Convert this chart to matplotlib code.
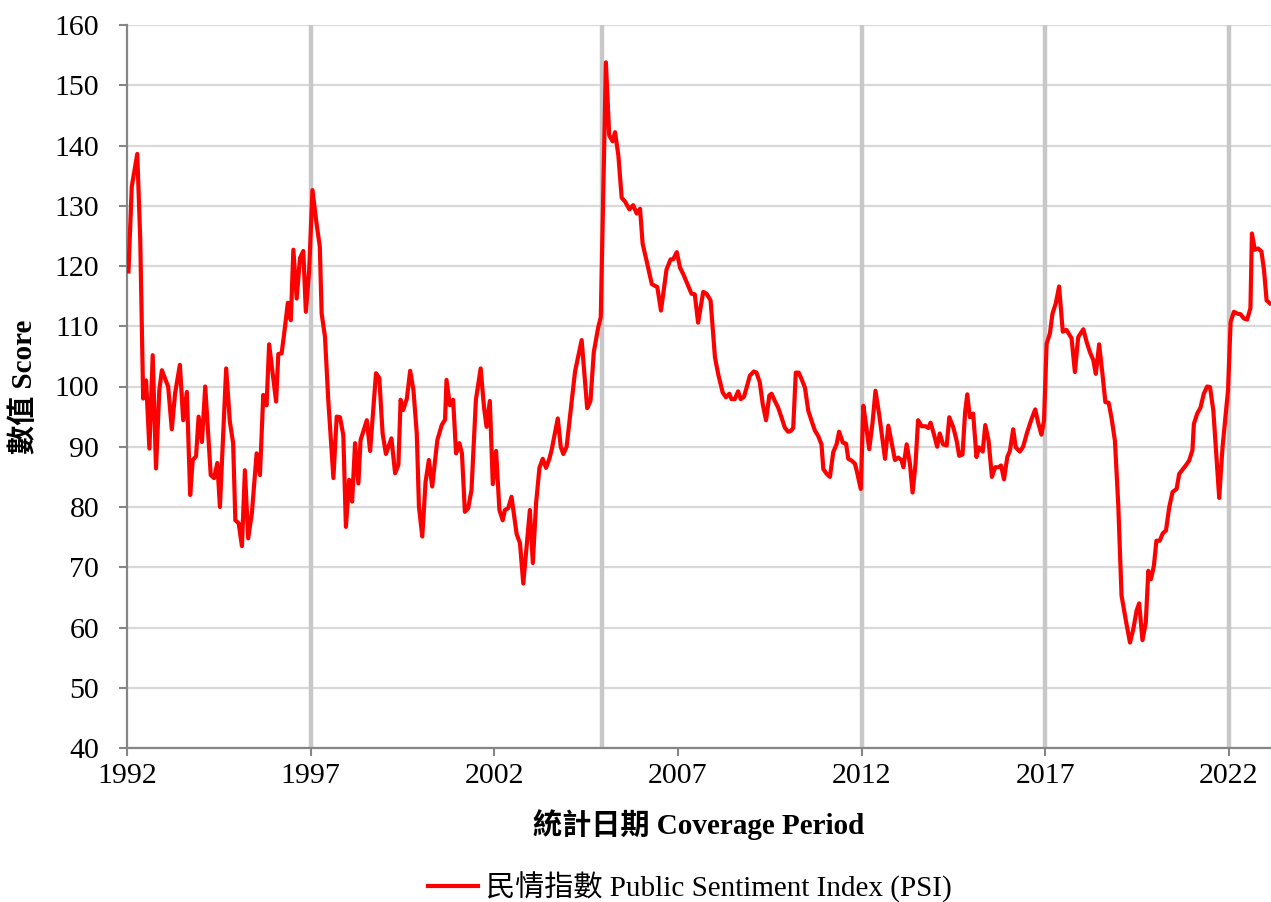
import matplotlib
matplotlib.use("Agg")
import matplotlib.pyplot as plt

# Decimal-year dates and PSI values
dates = [1992.04, 1992.13, 1992.28, 1992.36, 1992.44, 1992.52, 1992.61, 1992.70, 1992.79, 1992.88,
         1992.95, 1993.12, 1993.22, 1993.31, 1993.44, 1993.53, 1993.63, 1993.72, 1993.79, 1993.88,
         1993.95, 1994.04, 1994.13, 1994.28, 1994.37, 1994.46, 1994.53, 1994.70, 1994.80, 1994.89,
         1994.95, 1995.04, 1995.13, 1995.21, 1995.30, 1995.40, 1995.53, 1995.62, 1995.71, 1995.80,
         1995.87, 1996.06, 1996.12, 1996.21, 1996.27, 1996.38, 1996.46, 1996.53, 1996.62, 1996.71,
         1996.80, 1996.87, 1996.96, 1997.05, 1997.16, 1997.25, 1997.30, 1997.39, 1997.48, 1997.62,
         1997.71, 1997.80, 1997.89, 1997.96, 1998.05, 1998.13, 1998.21, 1998.30, 1998.36, 1998.53,
         1998.62, 1998.78, 1998.87, 1998.96, 1999.05, 1999.20, 1999.30, 1999.39, 1999.45, 1999.52,
         1999.62, 1999.71, 1999.80, 1999.89, 1999.95, 2000.04, 2000.13, 2000.22, 2000.31, 2000.45,
         2000.57, 2000.66, 2000.70, 2000.79, 2000.88, 2000.96, 2001.05, 2001.12, 2001.20, 2001.29,
         2001.38, 2001.50, 2001.63, 2001.72, 2001.79, 2001.88, 2001.96, 2002.05, 2002.14, 2002.23,
         2002.29, 2002.38, 2002.47, 2002.61, 2002.70, 2002.79, 2002.97, 2003.05, 2003.14, 2003.23,
         2003.32, 2003.41, 2003.50, 2003.56, 2003.73, 2003.81, 2003.88, 2003.97, 2004.11, 2004.20,
         2004.38, 2004.53, 2004.62, 2004.71, 2004.83, 2004.90, 2005.04, 2005.13, 2005.22, 2005.29,
         2005.38, 2005.47, 2005.56, 2005.68, 2005.78, 2005.88, 2005.97, 2006.04, 2006.15, 2006.29,
         2006.44, 2006.54, 2006.69, 2006.80, 2006.87, 2006.97, 2007.06, 2007.15, 2007.28, 2007.37,
         2007.46, 2007.55, 2007.69, 2007.78, 2007.89, 2008.01, 2008.10, 2008.22, 2008.31, 2008.40,
         2008.46, 2008.55, 2008.64, 2008.71, 2008.80, 2008.87, 2008.96, 2009.07, 2009.14, 2009.23,
         2009.31, 2009.40, 2009.49, 2009.55, 2009.64, 2009.73, 2009.82, 2009.91, 2010.00, 2010.07,
         2010.14, 2010.21, 2010.29, 2010.37, 2010.46, 2010.55, 2010.64, 2010.73, 2010.82, 2010.91,
         2010.96, 2011.05, 2011.14, 2011.23, 2011.32, 2011.39, 2011.49, 2011.58, 2011.64, 2011.73,
         2011.82, 2011.87, 2011.98, 2012.05, 2012.12, 2012.21, 2012.30, 2012.38, 2012.48, 2012.59,
         2012.64, 2012.73, 2012.82, 2012.91, 2013.00, 2013.09, 2013.14, 2013.23, 2013.32, 2013.39,
         2013.47, 2013.54, 2013.64, 2013.75, 2013.82, 2013.88, 2013.97, 2014.06, 2014.13, 2014.22,
         2014.32, 2014.39, 2014.50, 2014.59, 2014.66, 2014.75, 2014.82, 2014.88, 2014.95, 2015.04,
         2015.13, 2015.20, 2015.30, 2015.37, 2015.46, 2015.55, 2015.64, 2015.73, 2015.80, 2015.88,
         2015.97, 2016.04, 2016.13, 2016.20, 2016.31, 2016.40, 2016.51, 2016.63, 2016.73, 2016.81,
         2016.90, 2016.97, 2017.04, 2017.13, 2017.20, 2017.29, 2017.38, 2017.48, 2017.58, 2017.72,
         2017.81, 2017.90, 2018.04, 2018.13, 2018.22, 2018.31, 2018.38, 2018.47, 2018.56, 2018.64,
         2018.73, 2018.81, 2018.90, 2018.99, 2019.08, 2019.20, 2019.31, 2019.40, 2019.49, 2019.56,
         2019.65, 2019.74, 2019.81, 2019.88, 2019.96, 2020.03, 2020.12, 2020.20, 2020.29, 2020.38,
         2020.47, 2020.58, 2020.65, 2020.74, 2020.83, 2020.92, 2021.01, 2021.05, 2021.14, 2021.23,
         2021.32, 2021.41, 2021.49, 2021.58, 2021.67, 2021.74, 2021.83, 2021.92, 2021.98, 2022.05,
         2022.14, 2022.23, 2022.32, 2022.41, 2022.50, 2022.59, 2022.63, 2022.71, 2022.80, 2022.89,
         2022.96, 2023.03, 2023.12]

psi = [119.1, 133.2, 138.6, 124.5, 98.0, 101.0, 89.7, 105.2, 86.4, 99.4,
       102.7, 100.0, 92.9, 98.9, 103.6, 94.4, 99.1, 82.0, 87.8, 88.4,
       95.0, 90.8, 100.0, 85.3, 84.8, 87.3, 80.0, 103.0, 94.2, 90.6,
       77.8, 77.3, 73.5, 86.1, 74.8, 79.0, 88.9, 85.3, 98.6, 96.9,
       107.0, 97.5, 105.4, 105.5, 108.3, 113.9, 111.0, 122.7, 114.6, 121.3,
       122.5, 112.4, 119.3, 132.6, 127.1, 123.2, 112.1, 108.3, 97.8, 84.8,
       95.0, 94.9, 91.9, 76.7, 84.5, 80.9, 90.6, 83.9, 91.1, 94.4,
       89.3, 102.2, 101.4, 92.2, 88.8, 91.4, 85.6, 87.0, 97.8, 96.1,
       98.0, 102.6, 99.4, 92.2, 80.0, 75.1, 84.2, 87.8, 83.4, 91.1,
       93.6, 94.5, 101.1, 96.9, 97.8, 88.9, 90.6, 88.9, 79.2, 79.8,
       82.8, 97.8, 103.0, 96.6, 93.3, 97.6, 83.8, 89.3, 79.5, 77.8,
       79.5, 79.8, 81.7, 75.5, 74.0, 67.3, 79.5, 70.7, 80.7, 86.5,
       88.0, 86.5, 88.0, 89.4, 94.7, 90.0, 88.8, 90.0, 97.6, 102.5,
       107.7, 96.4, 97.6, 105.7, 109.8, 111.5, 153.8, 141.7, 140.7, 142.2,
       138.3, 131.3, 130.7, 129.4, 130.1, 128.7, 129.5, 123.7, 120.8, 117.0,
       116.5, 112.6, 119.4, 121.1, 121.1, 122.3, 119.7, 118.6, 116.7, 115.4,
       115.3, 110.6, 115.7, 115.4, 114.3, 104.8, 102.0, 99.0, 98.2, 98.8,
       97.9, 97.9, 99.2, 97.9, 98.3, 99.8, 101.8, 102.5, 102.3, 100.7,
       97.1, 94.4, 98.5, 98.8, 97.6, 96.5, 94.9, 93.2, 92.5, 92.6,
       93.1, 102.3, 102.3, 101.2, 99.8, 96.0, 94.3, 92.7, 91.8, 90.4,
       86.3, 85.5, 85.0, 89.1, 90.4, 92.5, 90.7, 90.5, 88.0, 87.7,
       87.2, 86.0, 83.0, 96.8, 93.8, 89.6, 94.0, 99.3, 95.4, 90.4,
       88.0, 93.5, 90.7, 87.8, 88.2, 87.8, 86.6, 90.4, 87.1, 82.4,
       87.1, 94.4, 93.4, 93.4, 93.1, 94.0, 92.1, 90.0, 92.2, 90.4,
       90.2, 94.9, 93.2, 91.0, 88.5, 88.7, 95.7, 98.7, 94.9, 95.5,
       88.3, 89.9, 89.2, 93.6, 91.0, 85.0, 86.6, 86.6, 86.9, 84.6,
       88.3, 89.3, 92.9, 89.9, 89.2, 90.0, 92.4, 94.6, 96.2, 94.0,
       92.0, 94.4, 107.1, 108.8, 112.1, 113.8, 116.6, 109.1, 109.4, 108.0,
       102.4, 108.2, 109.5, 107.4, 105.7, 104.4, 102.1, 107.0, 102.1, 97.4,
       97.3, 94.7, 91.0, 80.5, 65.3, 61.1, 57.5, 59.7, 62.8, 64.0,
       57.9, 60.8, 69.4, 68.0, 70.2, 74.4, 74.4, 75.6, 76.1, 80.0,
       82.5, 83.0, 85.5, 86.2, 86.9, 87.7, 89.4, 93.8, 95.5, 96.5,
       98.8, 100.0, 99.9, 96.0, 87.7, 81.5, 89.9, 95.5, 99.4, 110.7,
       112.4, 112.1, 112.0, 111.3, 111.1, 113.0, 125.4, 122.7, 122.9, 122.4,
       119.3, 114.3, 113.8]

separators = [1997.0, 2004.94, 2012.0, 2017.0, 2022.0]
x_ticks = [1992, 1997, 2002, 2007, 2012, 2017, 2022]
y_ticks = list(range(40, 161, 10))

series_label = "民情指數 Public Sentiment Index (PSI)"
x_title = "統計日期 Coverage Period"
y_title = "數值 Score"

FAM = ["Liberation Serif", "Noto Sans CJK TC"]
plt.rcParams["font.family"] = FAM

fig = plt.figure(figsize=(12.71, 9.02), dpi=100)
ax = fig.add_axes([127 / 1271, 1 - 748 / 902, 1 - 127 / 1271, (748 - 25) / 902])

for s in separators:
    ax.axvline(s, color="#c8c8c8", lw=3.2, zorder=1)

ax.plot(dates, psi, color="#ff0000", lw=3, solid_joinstyle="round", zorder=3, label=series_label)

ax.set_xlim(1992, 2023.15)
ax.set_ylim(40, 160)
ax.set_yticks(y_ticks)
ax.set_xticks(x_ticks)
ax.grid(axis="y", color="#d9d9d9", lw=1.6, zorder=0)
ax.set_axisbelow(True)

for sp in ["top", "right"]:
    ax.spines[sp].set_visible(False)
for sp in ["left", "bottom"]:
    ax.spines[sp].set_color("#868686")
    ax.spines[sp].set_linewidth(1.6)

ax.tick_params(axis="y", direction="out", length=6, width=1.5, color="#868686",
               labelsize=21.5, pad=14, labelcolor="black")
ax.tick_params(axis="x", direction="out", length=6, width=1.5, color="#868686",
               labelsize=21.5, pad=5, labelcolor="black")

ax.set_xlabel(x_title, fontsize=21, fontweight="bold", labelpad=14)
ax.set_ylabel(y_title, fontsize=21, fontweight="bold", labelpad=12)

leg = fig.legend(loc="center", bbox_to_anchor=(0.543, 1 - 887 / 902), frameon=False,
                 fontsize=21, handlelength=1.7, handletextpad=0.3)

fig.savefig("out.png", dpi=100)
